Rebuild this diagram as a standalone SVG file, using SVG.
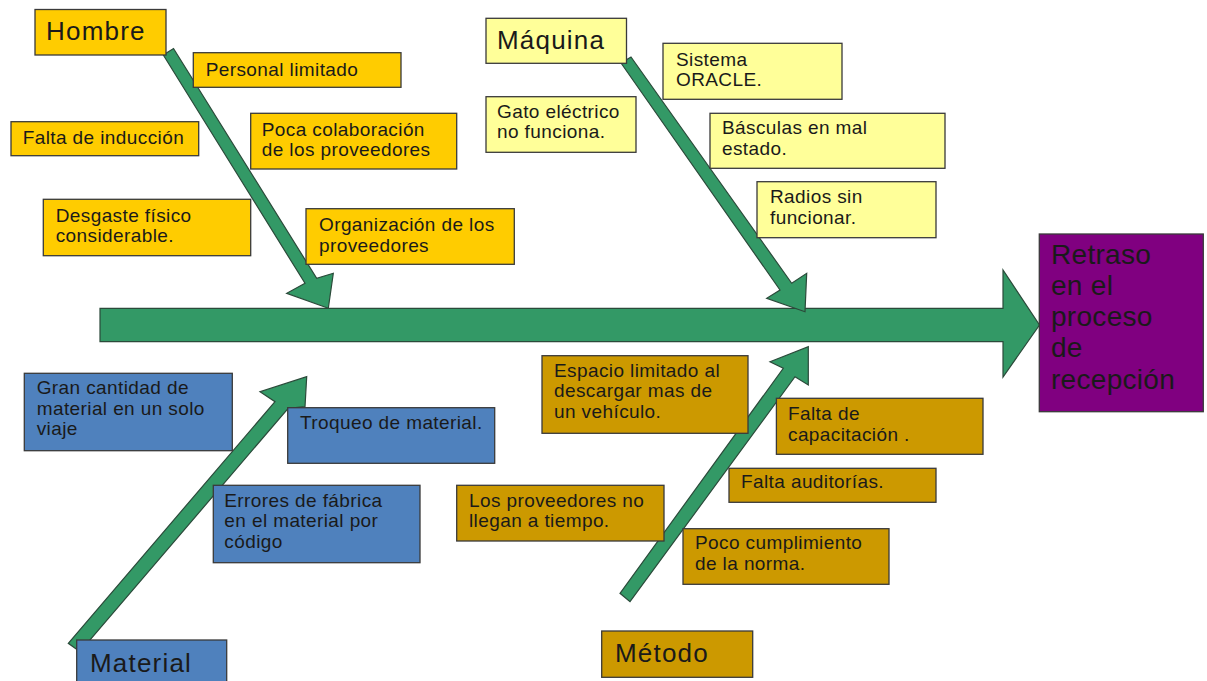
<svg xmlns="http://www.w3.org/2000/svg" width="1207" height="681" viewBox="0 0 1207 681">
<style>
.bg{fill:#ffffff}
.arrow{fill:#339966;stroke:#2b4a3a;stroke-width:1.2;stroke-linejoin:miter}
.box{stroke:#3a3a3a;stroke-width:1.3}
.h{fill:#FFCC00}
.m{fill:#FFFF99}
.mat{fill:#4F81BD}
.met{fill:#CC9900}
.eff{fill:#800080}
text{font-family:"Liberation Sans",Arial,sans-serif;fill:#1a1a1a}
.t{font-size:19px;letter-spacing:0.4px}
.title{font-size:26px;letter-spacing:1.2px}
.big{font-size:28px;letter-spacing:0.3px}
</style>
<rect class="bg" x="0" y="0" width="1207" height="681"/>
<g id="connectors">
<polygon id="spine" class="arrow" points="100,308.3 1003,308.3 1003,270 1039.5,325 1003,377 1003,341.7 100,341.7"/>
<polygon id="arrow-hombre" class="arrow" points="173.5,48.5 316.7,278.3 333.3,273.3 328.3,308.3 286.7,293.3 305,283.3 163.3,55"/>
<polygon id="arrow-maquina" class="arrow" points="631,57 791.7,283.3 806.7,273.3 805,311.7 766.7,298.3 780,290 621,63"/>
<polygon id="arrow-material" class="arrow" points="80,651.7 288.2,408.3 305,406.7 306.7,376.7 260,391.7 275,401.7 68.3,643.3"/>
<polygon id="arrow-metodo" class="arrow" points="630,601.7 795,376.7 808.3,385 808.3,346.7 770,361.7 783.3,368.3 620,593.3"/>
</g>
<g id="hombre"><rect class="box h" x="35" y="9.5" width="131" height="45.5"/><text class="title" x="46" y="40">Hombre</text></g>
<g id="personal-limitado"><rect class="box h" x="193.3" y="52.7" width="207.7" height="34.6"/><text class="t" x="205.7" y="76">Personal limitado</text></g>
<g id="falta-induccion"><rect class="box h" x="11" y="121.7" width="187.7" height="34"/><text class="t" x="22.7" y="144">Falta de inducción</text></g>
<g id="poca-colaboracion"><rect class="box h" x="250.7" y="113.3" width="206" height="55.7"/><text class="t" x="261.7" y="136">Poca colaboración</text><text class="t" x="261.7" y="156">de los proveedores</text></g>
<g id="desgaste"><rect class="box h" x="43.3" y="199.3" width="207.4" height="56.4"/><text class="t" x="55.7" y="221.7">Desgaste físico</text><text class="t" x="55.7" y="242.3">considerable.</text></g>
<g id="organizacion"><rect class="box h" x="306" y="208.7" width="208.3" height="55.6"/><text class="t" x="319" y="231">Organización de los</text><text class="t" x="319" y="251.7">proveedores</text></g>
<g id="maquina"><rect class="box m" x="486" y="18.3" width="140.5" height="45"/><text class="title" x="497" y="48.5">Máquina</text></g>
<g id="sistema-oracle"><rect class="box m" x="663" y="43.3" width="179" height="56"/><text class="t" x="676" y="66">Sistema</text><text class="t" x="676" y="86">ORACLE.</text></g>
<g id="gato-electrico"><rect class="box m" x="486" y="96.7" width="150" height="55.6"/><text class="t" x="497" y="118.3">Gato eléctrico</text><text class="t" x="497" y="138.3">no funciona.</text></g>
<g id="basculas"><rect class="box m" x="710" y="113.3" width="235" height="55"/><text class="t" x="722" y="134">Básculas en mal</text><text class="t" x="722" y="155">estado.</text></g>
<g id="radios"><rect class="box m" x="757" y="181.7" width="179" height="56"/><text class="t" x="770" y="203.3">Radios sin</text><text class="t" x="770" y="224">funcionar.</text></g>
<g id="efecto"><rect class="box eff" x="1039.3" y="234" width="164" height="177.7"/><text class="big" x="1051" y="263.5">Retraso</text><text class="big" x="1051" y="294.8">en el</text><text class="big" x="1051" y="326">proceso</text><text class="big" x="1051" y="357.3">de</text><text class="big" x="1051" y="388.6">recepción</text></g>
<g id="material"><rect class="box mat" x="76.7" y="640" width="150" height="45"/><text class="title" x="90" y="671.7">Material</text></g>
<g id="gran-cantidad"><rect class="box mat" x="24.3" y="373.3" width="208" height="77.4"/><text class="t" x="36.7" y="394">Gran cantidad de</text><text class="t" x="36.7" y="414.5">material en un solo</text><text class="t" x="36.7" y="435">viaje</text></g>
<g id="troqueo"><rect class="box mat" x="287.7" y="407.7" width="207" height="55.6"/><text class="t" x="300" y="429.3">Troqueo de material.</text></g>
<g id="errores"><rect class="box mat" x="213.3" y="485.3" width="206.7" height="77.4"/><text class="t" x="224.3" y="506.7">Errores de fábrica</text><text class="t" x="224.3" y="527.3">en el material por</text><text class="t" x="224.3" y="548.3">código</text></g>
<g id="metodo"><rect class="box met" x="601.7" y="631" width="151" height="46.3"/><text class="title" x="615" y="661.7">Método</text></g>
<g id="espacio-limitado"><rect class="box met" x="542" y="355.7" width="206" height="77.6"/><text class="t" x="554" y="376.7">Espacio limitado al</text><text class="t" x="554" y="397.3">descargar mas de</text><text class="t" x="554" y="418.3">un vehículo.</text></g>
<g id="falta-capacitacion"><rect class="box met" x="776.4" y="398.3" width="206.6" height="56"/><text class="t" x="788" y="420">Falta de</text><text class="t" x="788" y="440.5">capacitación .</text></g>
<g id="falta-auditorias"><rect class="box met" x="729" y="468.3" width="207" height="34"/><text class="t" x="741" y="488.3">Falta auditorías.</text></g>
<g id="proveedores-tiempo"><rect class="box met" x="456.7" y="485.3" width="207.3" height="55.7"/><text class="t" x="469" y="506.7">Los proveedores no</text><text class="t" x="469" y="527.3">llegan a tiempo.</text></g>
<g id="poco-cumplimiento"><rect class="box met" x="683" y="528.7" width="206" height="55.6"/><text class="t" x="695" y="549.3">Poco cumplimiento</text><text class="t" x="695" y="570">de la norma.</text></g>
</svg>
